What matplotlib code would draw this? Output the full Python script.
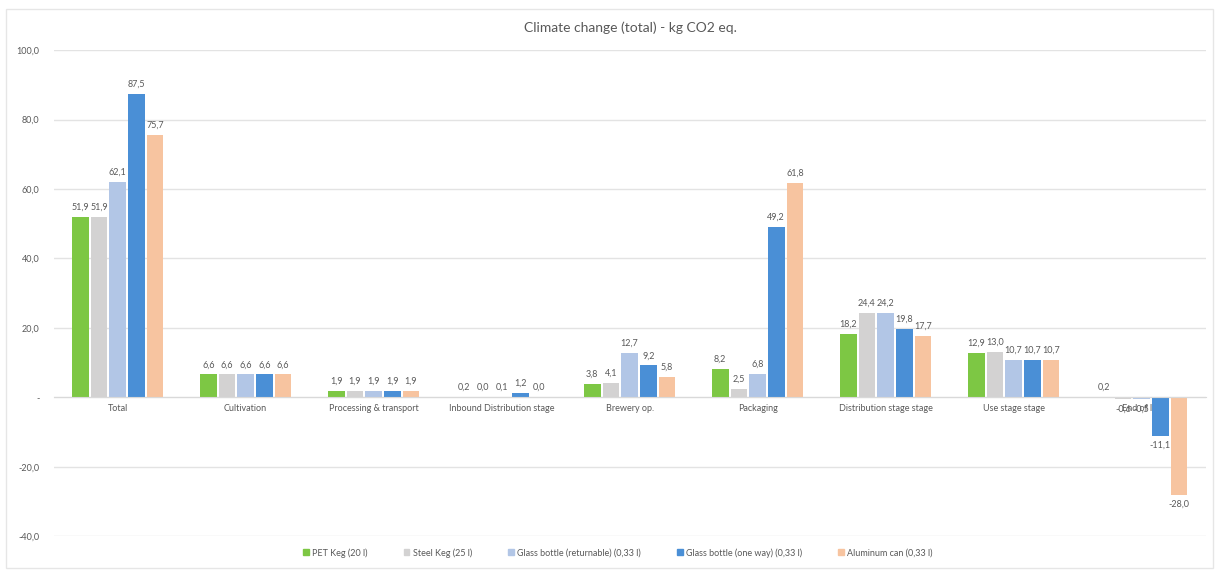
import numpy as np
import matplotlib
matplotlib.use('Agg')
import matplotlib.pyplot as plt
from matplotlib.patches import Rectangle

plt.rcParams['font.family'] = ['Lato', 'DejaVu Sans']

# life cycle stages and packaging options
stages = ['Total', 'Cultivation', 'Processing & transport', 'Inbound Distribution stage',
          'Brewery op.', 'Packaging', 'Distribution stage stage', 'Use stage stage', 'End of life']
series_names = ['PET Keg (20 l)', 'Steel Keg (25 l)', 'Glass bottle (returnable) (0,33 l)',
                'Glass bottle (one way) (0,33 l)', 'Aluminum can (0,33 l)']

pet_keg = [51.9, 6.6, 1.9, 0.2, 3.8, 8.2, 18.2, 12.9, 0.2]
steel_keg = [51.9, 6.6, 1.9, 0.0, 4.1, 2.5, 24.4, 13.0, -0.6]
glass_returnable = [62.1, 6.6, 1.9, 0.1, 12.7, 6.8, 24.2, 10.7, -0.5]
glass_oneway = [87.5, 6.6, 1.9, 1.2, 9.2, 49.2, 19.8, 10.7, -11.1]
alu_can = [75.7, 6.6, 1.9, 0.0, 5.8, 61.8, 17.7, 10.7, -28.0]

yticks = [-40, -20, 0, 20, 40, 60, 80, 100]

series = [pet_keg, steel_keg, glass_returnable, glass_oneway, alu_can]
colors = ['#7dc744', '#d3d2d2', '#b2c6e6', '#4a8fd6', '#f7c4a0']

fig = plt.figure(figsize=(12.19, 5.71), dpi=100)
ax = fig.add_axes([0.044, 0.061, 0.945, 0.851])

x = np.arange(len(stages))
slot = 0.146
width = 0.13
text_col = '#595959'

for i, (vals, col) in enumerate(zip(series, colors)):
    pos = x + (i - 2) * slot
    ax.bar(pos, vals, width, color=col, zorder=3)
    for xp, v in zip(pos, vals):
        lbl = f'{v:.1f}'.replace('.', ',')
        if v >= 0:
            ax.text(xp, v + 1.5, lbl, ha='center', va='bottom', fontsize=6.5, color=text_col)
        else:
            ax.text(xp, v - 1.5, lbl, ha='center', va='top', fontsize=6.5, color=text_col)

# category axis sits on the zero line
ax.spines['bottom'].set_position(('data', 0))
ax.spines['bottom'].set_color('#d9d9d9')
ax.spines['bottom'].set_zorder(4)
for s in ['top', 'right', 'left']:
    ax.spines[s].set_visible(False)

ax.set_xlim(-0.5, len(stages) - 0.5)
ax.set_ylim(-40, 100)
ax.set_yticks(yticks)
ax.set_yticklabels(['-' if t == 0 else f'{t:.1f}'.replace('.', ',') for t in yticks],
                   fontsize=6.5, color=text_col)
ax.grid(axis='y', color='#e3e3e3', linewidth=1, zorder=0)
ax.tick_params(axis='y', length=0, pad=10)

ax.set_xticks(x)
ax.set_xticklabels(stages, fontsize=6.5, color=text_col)
ax.tick_params(axis='x', length=0, pad=5)

fig.text(0.517, 0.951, 'Climate change (total) - kg CO2 eq.', ha='center', va='center',
         fontsize=10, color=text_col)

handles = [Rectangle((0, 0), 1, 1, color=c) for c in colors]
fig.legend(handles, series_names, loc='center', bbox_to_anchor=(0.507, 0.032), ncol=5,
           frameon=False, fontsize=6.5, handlelength=0.6, handleheight=0.6,
           columnspacing=4, handletextpad=0.4, labelcolor=text_col)

# chart border
fig.patches.append(Rectangle((0.005, 0.005), 0.99, 0.98, transform=fig.transFigure,
                             fill=False, edgecolor='#e6e6e6', linewidth=1))

fig.savefig('out.png', dpi=100)
